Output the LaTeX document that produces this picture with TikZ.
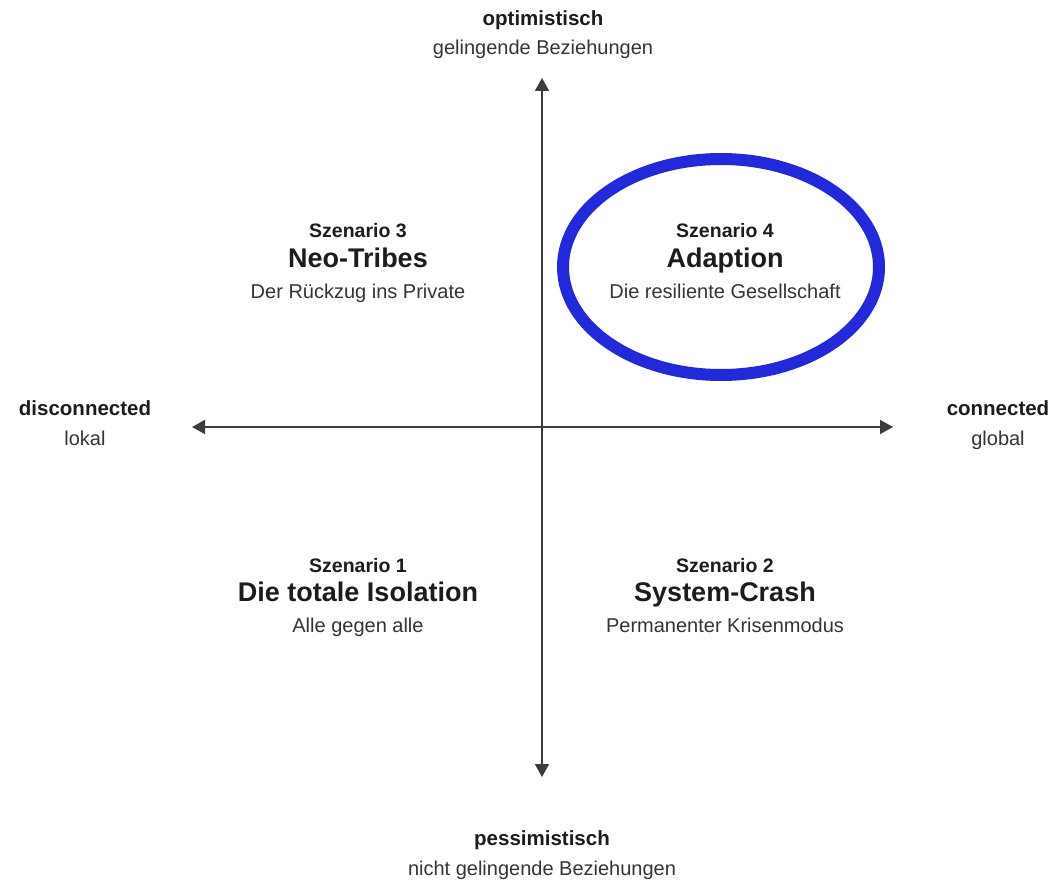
\documentclass[tikz,border=0pt]{standalone}
\usepackage{fontspec}
\setmainfont{Liberation Sans}
\usetikzlibrary{arrows.meta, positioning}

\definecolor{axisgray}{RGB}{60,60,60}
\definecolor{ringblue}{RGB}{34,41,217}
\definecolor{textdark}{RGB}{28,28,28}
\definecolor{textgray}{RGB}{52,52,52}

\tikzset{
  axis/.style={line width=1.8pt, draw=axisgray,
    {Triangle[width=14pt,length=13pt]}-{Triangle[width=14pt,length=13pt]}},
  poltitle/.style={font=\fontsize{20.5}{24}\selectfont\bfseries, text=textdark, anchor=base, inner sep=0pt},
  polsub/.style={font=\fontsize{20}{24}\selectfont, text=textgray, anchor=base, inner sep=0pt},
  sznum/.style={font=\fontsize{19.5}{24}\selectfont\bfseries, text=textdark, anchor=base, inner sep=0pt},
  szname/.style={font=\fontsize{27}{32}\selectfont\bfseries, text=textdark, anchor=base, inner sep=0pt},
  ring/.style={draw=ringblue, line width=12pt}
}

\begin{document}
\begin{tikzpicture}[x=1pt,y=1pt,yscale=-1,xscale=1]
\useasboundingbox (0,0) rectangle (1054,882);

% axis ends
\coordinate (top) at (542,78);
\coordinate (bottom) at (542,777);
\coordinate (left) at (192,427);
\coordinate (right) at (893,427);

%Straight Lines
\draw [axis] (bottom) -- (top);
\draw [axis] (left) -- (right);

%Shape: Ellipse
\draw [ring] (721,267) ellipse [x radius=158, y radius=108];

% Text Node
\node [poltitle] (opt) at (543,26) {optimistisch};
\node [polsub] (optsub) at (543,55) {gelingende Beziehungen};
% Text Node
\node [poltitle] (pess) at (542,845) {pessimistisch};
\node [polsub] (pesssub) at (542,875) {nicht gelingende Beziehungen};
% Text Node
\node [poltitle] (disc) at (85,415) {disconnected};
\node [polsub] (discsub) at (85,445) {lokal};
% Text Node
\node [poltitle] (conn) at (998,415) {connected};
\node [polsub] (connsub) at (998,445) {global};

% Text Node
\node [sznum] (sz3) at (358,238) {Szenario 3};
\node [szname] (sz3name) at (358,268) {Neo-Tribes};
\node [polsub] (sz3sub) at (358,299) {Der Rückzug ins Private};
% Text Node
\node [sznum] (sz4) at (725,238) {Szenario 4};
\node [szname] (sz4name) at (725,268) {Adaption};
\node [polsub] (sz4sub) at (725,299) {Die resiliente Gesellschaft};
% Text Node
\node [sznum] (sz1) at (358,572) {Szenario 1};
\node [szname] (sz1name) at (358,601) {Die totale Isolation};
\node [polsub] (sz1sub) at (358,632) {Alle gegen alle};
% Text Node
\node [sznum] (sz2) at (725,572) {Szenario 2};
\node [szname] (sz2name) at (725,601) {System-Crash};
\node [polsub] (sz2sub) at (725,632) {Permanenter Krisenmodus};

\end{tikzpicture}
\end{document}
